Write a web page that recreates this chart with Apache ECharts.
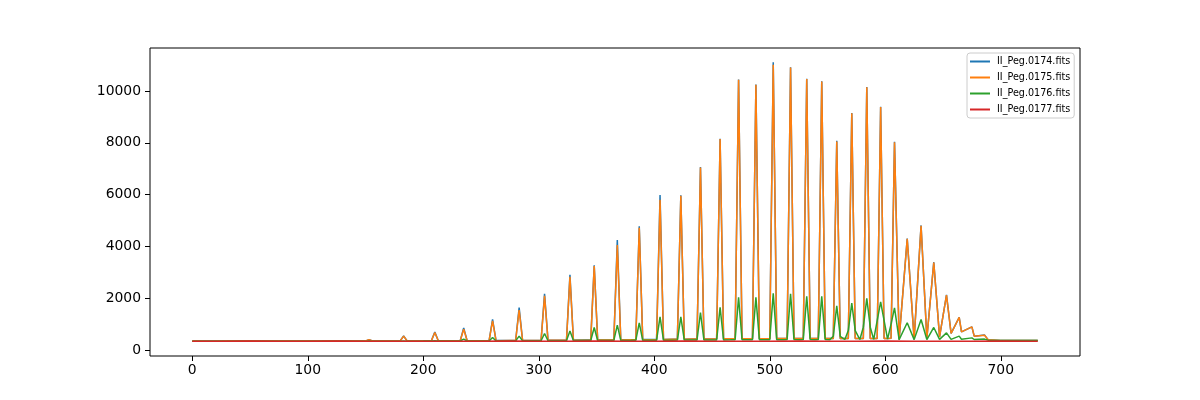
<!DOCTYPE html>
<html>
<head>
<meta charset="utf-8">
<script src="https://cdn.jsdelivr.net/npm/echarts@6.0.0/dist/echarts.min.js"></script>
<style>html,body{margin:0;padding:0;background:#fff}#c{width:1200px;height:400px}</style>
</head>
<body>
<div id="c"></div>
<script>
// ---- data ----
const seriesNames = ['II_Peg.0174.fits', 'II_Peg.0175.fits', 'II_Peg.0176.fits', 'II_Peg.0177.fits'];
const xTicks = [0, 100, 200, 300, 400, 500, 600, 700];
const yTicks = [0, 2000, 4000, 6000, 8000, 10000];

// shared sample positions (pixel/column index) for the first three spectra
const xGrid = [
  0, 15, 30, 45, 60, 75, 90, 105, 120, 135, 150,
  153, 156, 170, 180,
  183, 186,
  200, 207, 210, 213,
  225, 232, 235, 238,
  250, 257, 260, 263,
  275, 280, 283, 286,
  296, 302, 305, 308,
  318, 324, 327, 330,
  340, 345, 348, 351,
  360, 365, 368, 371,
  380, 384, 387, 390,
  398, 402, 405, 408,
  416, 420, 423, 426,
  433, 437, 440, 443,
  450, 454, 457, 460,
  466, 470, 473, 476,
  482, 485, 488, 491,
  497, 500, 503, 506,
  512, 515, 518, 521,
  526, 529, 532, 535,
  539, 542, 545, 548,
  552, 555, 558, 561,
  565, 568, 571, 574,
  578, 581, 584, 587,
  590, 593, 596, 599,
  602, 605, 608, 612,
  619, 625, 631, 636,
  642, 647, 653, 657,
  664, 666, 675, 677,
  686, 689, 700, 715, 732
];

const y0174 = [
  346, 343, 346, 345, 345, 344, 346, 345, 345, 346, 344,
  395, 347, 347, 350,
  540, 352,
  351, 355, 690, 356,
  356, 358, 850, 359,
  359, 361, 1180, 362,
  366, 366, 1640, 366,
  371, 371, 2170, 373,
  376, 376, 2900, 379,
  381, 381, 3270, 383,
  386, 386, 4250, 391,
  396, 396, 4780, 401,
  401, 406, 5980, 406,
  411, 411, 5970, 416,
  421, 421, 7060, 426,
  426, 431, 8160, 431,
  431, 431, 10440, 436,
  436, 436, 10250, 436,
  436, 436, 11110, 441,
  441, 441, 10920, 441,
  441, 441, 10470, 441,
  441, 441, 10380, 441,
  441, 441, 8080, 441,
  441, 441, 9150, 441,
  441, 441, 10150, 441,
  441, 441, 9390, 441,
  441, 451, 8040, 406,
  4300, 421, 4810, 446,
  3390, 508, 2130, 639,
  1260, 700, 895, 535,
  575, 400, 371, 366, 367
];

const y0175 = [
  345, 342, 347, 344, 346, 343, 347, 344, 346, 345, 345,
  400, 348, 346, 350,
  534, 352,
  350, 355, 676, 355,
  355, 358, 800, 358,
  358, 360, 1125, 360,
  365, 365, 1540, 365,
  370, 370, 2090, 372,
  375, 375, 2830, 378,
  380, 380, 3240, 382,
  385, 385, 4050, 390,
  395, 395, 4720, 400,
  400, 405, 5800, 405,
  410, 410, 5950, 415,
  420, 420, 7050, 425,
  425, 430, 8150, 430,
  430, 430, 10430, 435,
  435, 435, 10240, 435,
  435, 435, 11010, 440,
  440, 440, 10910, 440,
  440, 440, 10460, 440,
  440, 440, 10370, 440,
  440, 440, 8050, 440,
  440, 440, 9140, 440,
  440, 440, 10140, 440,
  440, 440, 9380, 440,
  440, 450, 8020, 405,
  4290, 420, 4800, 445,
  3380, 507, 2120, 638,
  1257, 700, 893, 534,
  572, 400, 370, 365, 368
];

const y0176 = [
  340, 341, 339, 342, 340, 341, 339, 340, 342, 341, 340,
  345, 340, 341, 342,
  350, 342,
  343, 344, 360, 344,
  345, 346, 420, 346,
  348, 350, 483, 350,
  352, 354, 534, 354,
  356, 358, 638, 358,
  360, 362, 738, 362,
  364, 365, 870, 366,
  368, 370, 959, 370,
  372, 374, 1048, 375,
  376, 378, 1280, 378,
  380, 382, 1280, 382,
  384, 386, 1440, 386,
  388, 390, 1643, 390,
  392, 395, 2030, 395,
  396, 398, 2030, 398,
  398, 400, 2185, 400,
  400, 402, 2170, 402,
  400, 402, 2069, 402,
  400, 402, 2069, 402,
  400, 530, 1706, 530,
  405, 750, 1810, 750,
  405, 880, 1991, 880,
  410, 1130, 1860, 1130,
  420, 1000, 1628, 400,
  1050, 400, 1180, 405,
  870, 410, 660, 410,
  534, 415, 468, 405,
  420, 380, 365, 362, 364
];

// the fourth spectrum is flat (continuum only)
const x0177 = [0, 25, 50, 75, 100, 125, 150, 175, 200, 225, 250, 275, 300, 325, 350, 375, 400, 425, 450, 475, 500, 525, 550, 575, 600, 625, 650, 675, 700, 725, 732];
const y0177 = [342, 336, 344, 340, 335, 343, 338, 341, 334, 342, 339, 344, 340, 336, 343, 338, 341, 345, 337, 342, 340, 344, 336, 341, 343, 338, 342, 337, 344, 340, 341];

const colors = ['#1f77b4', '#ff7f0e', '#2ca02c', '#d62728'];

function pairs(xs, ys) { return xs.map((x, i) => [x, ys[i]]); }

const chart = echarts.init(document.getElementById('c'), null, {renderer: 'canvas'});
const font = 'DejaVu Sans';
const mkSeries = (name, data, color) => ({
  name, type: 'line', data, showSymbol: false, symbol: 'none',
  lineStyle: {color, width: 1.5}, itemStyle: {color},
  animation: false, silent: true
});

chart.setOption({
  animation: false,
  color: colors,
  grid: {left: 150, right: 120, top: 48, bottom: 44, show: true, borderColor: '#000', borderWidth: 1, backgroundColor: 'transparent', outerBoundsMode: 'none'},
  xAxis: {
    type: 'value', min: -36.6, max: 768.6,
    axisLine: {show: false, onZero: false},
    splitLine: {show: false},
    axisTick: {show: true, inside: false, length: 5, lineStyle: {color: '#000', width: 1}, customValues: xTicks},
    axisLabel: {color: '#000', fontFamily: font, fontSize: 13.9, margin: 7, customValues: xTicks, formatter: v => String(v)}
  },
  yAxis: {
    type: 'value', min: -232, max: 11660,
    axisLine: {show: false, onZero: false},
    splitLine: {show: false},
    axisTick: {show: true, inside: false, length: 5, lineStyle: {color: '#000', width: 1}, customValues: yTicks},
    axisLabel: {color: '#000', fontFamily: font, fontSize: 13.9, margin: 9, customValues: yTicks, formatter: v => String(v)}
  },
  legend: {
    show: true, orient: 'vertical', left: 967, top: 53,
    data: seriesNames,
    icon: 'rect', itemWidth: 20, itemHeight: 2, itemGap: 5,
    padding: [3, 4, 3, 3],
    textStyle: {fontFamily: font, fontSize: 9.6, color: '#000', lineHeight: 11, padding: [0, 0, 0, 2]},
    backgroundColor: 'rgba(255,255,255,0.8)', borderColor: '#cccccc', borderWidth: 1, borderRadius: 3,
    selectedMode: false
  },
  series: [
    mkSeries(seriesNames[0], pairs(xGrid, y0174), colors[0]),
    mkSeries(seriesNames[1], pairs(xGrid, y0175), colors[1]),
    mkSeries(seriesNames[2], pairs(xGrid, y0176), colors[2]),
    mkSeries(seriesNames[3], pairs(x0177, y0177), colors[3])
  ]
});
</script>
</body>
</html>
